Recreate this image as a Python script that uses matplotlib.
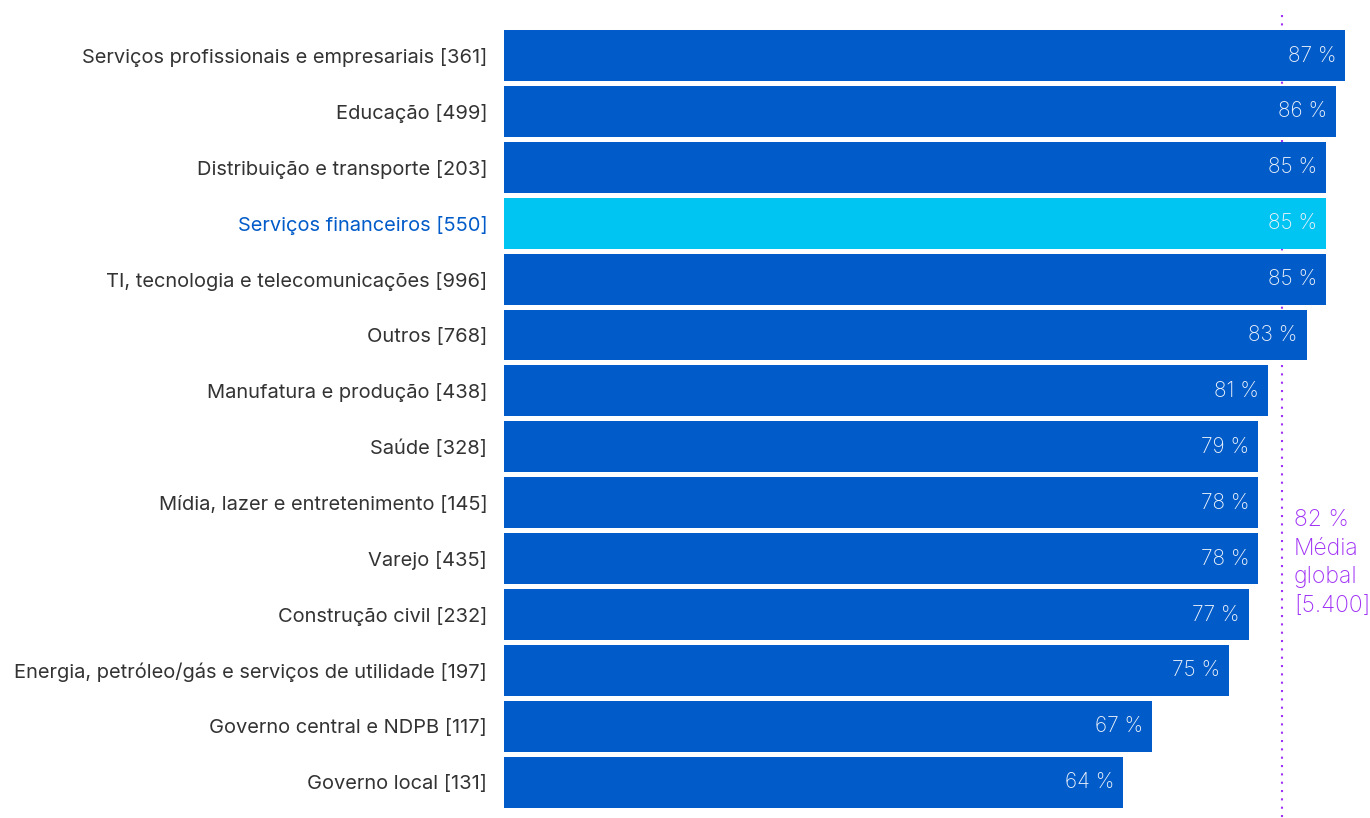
import matplotlib.pyplot as plt

plt.rcParams['font.family'] = ['Inter', 'DejaVu Sans']

categories = [
    'Serviços profissionais e empresariais [361]',
    'Educação [499]',
    'Distribuição e transporte [203]',
    'Serviços financeiros [550]',
    'TI, tecnologia e telecomunicações [996]',
    'Outros [768]',
    'Manufatura e produção [438]',
    'Saúde [328]',
    'Mídia, lazer e entretenimento [145]',
    'Varejo [435]',
    'Construção civil [232]',
    'Energia, petróleo/gás e serviços de utilidade [197]',
    'Governo central e NDPB [117]',
    'Governo local [131]',
]
# bar lengths as drawn in the picture
bar_values = [87, 86, 85, 85, 85, 83, 79, 78, 78, 78, 77, 75, 67, 64]
# percentages printed on the bars
value_labels = [87, 86, 85, 85, 85, 83, 81, 79, 78, 78, 77, 75, 67, 64]
highlight = 'Serviços financeiros [550]'
avg_position = 80.45
avg_text = '82 %\nMédia\nglobal\n[5.400]'

dark_blue = '#015bc9'
light_blue = '#00c4f1'
purple = '#a030f5'
label_grey = '#333333'

fig = plt.figure(figsize=(13.7, 8.18), dpi=100)
ax = fig.add_axes([504 / 1370, 0, 1 - 504 / 1370, 1])

ypos = list(range(len(categories)))
colors = [light_blue if c == highlight else dark_blue for c in categories]

ax.vlines(avg_position, -0.725, 13.7, color=purple, linewidth=1.5,
          linestyles=(0, (1, 3)), zorder=1)
bars = ax.barh(ypos, bar_values, height=0.91, color=colors, zorder=2)

for bar, val in zip(bars, value_labels):
    ax.annotate(f'{val} %', (bar.get_width(), bar.get_y() + bar.get_height() / 2),
                xytext=(-6.5, 0), textcoords='offset points',
                ha='right', va='center', fontsize=15, color='#eef3fb',
                fontweight='light', zorder=3)

ax.annotate(avg_text, (avg_position, 8.11), xytext=(8.5, 0),
            textcoords='offset points', ha='left', va='top',
            fontsize=16.5, color=purple, linespacing=1.4, fontweight='light')

ax.set_yticks(ypos)
ax.set_yticklabels(categories, fontsize=14.45)
for lbl in ax.get_yticklabels():
    lbl.set_color(dark_blue if lbl.get_text() == highlight else label_grey)
ax.tick_params(axis='y', length=0, pad=12)
ax.set_xticks([])
ax.set_xlim(0, 89.55)
ax.set_ylim(13.64, -0.993)
for s in ax.spines.values():
    s.set_visible(False)

fig.savefig('out.png', dpi=100)
